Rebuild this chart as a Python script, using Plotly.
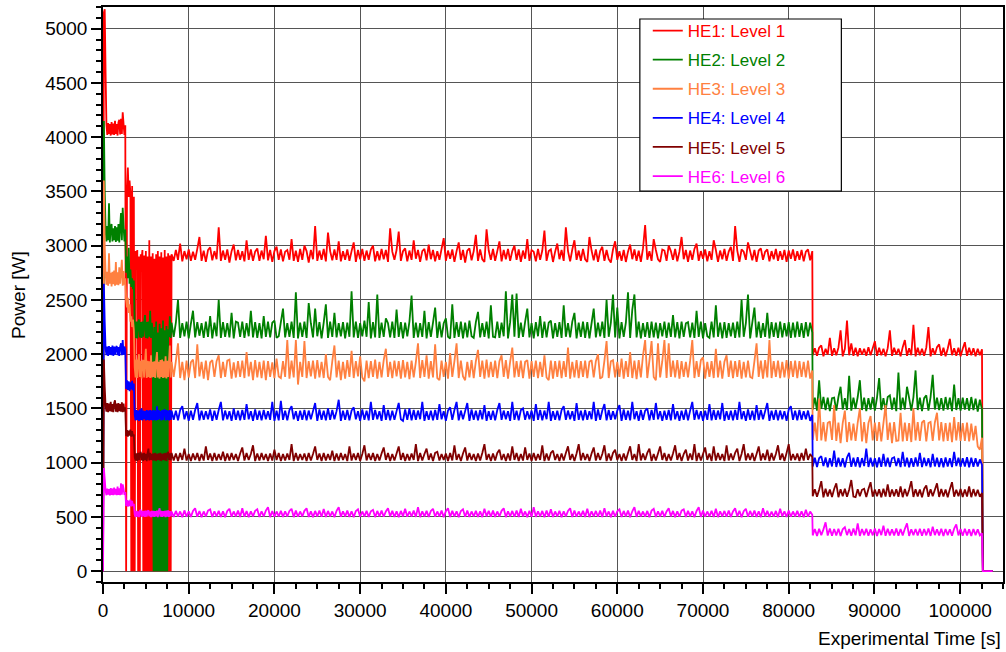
import plotly.graph_objects as go

# ---------------- time bases (s) ----------------
t_early = list(range(0, 8001, 100))                          # 81 samples
t_main = list(range(8250, 82751, 250))                       # 299 samples
t_post = list(range(82800, 102551, 250)) + [102650, 103800]  # 82 samples

series_names = ["HE1: Level 1", "HE2: Level 2", "HE3: Level 3",
                "HE4: Level 4", "HE5: Level 5", "HE6: Level 6"]
series_colors = ["#FF0000", "#008000", "#FF8040", "#0000FF", "#800000", "#FF00FF"]

# ---------------- HE1 ----------------
he1_early = [0, 5150, 5180, 4600, 4120,
             4020, 4130, 4030, 4120, 4015, 4140, 4025, 4125, 4020, 4150, 4030, 4120, 4015, 4135, 4160, 4025, 4170, 4030, 4230, 4120, 4020, 4110,
             0, 3500, 3720, 3450, 3600, 3480, 0, 3550, 0, 3450, 0,
             2950, 2870, 2960, 0, 2900, 0, 2920, 2870, 2960,
             0, 2910, 0, 2950, 0, 2900, 0, 3050, 0, 2900, 0, 2930, 0, 2880, 0, 2920, 0, 2950, 0, 2900,
             0, 2940, 0, 2890, 0, 2960, 0, 2900, 0, 2930, 0, 2910, 0, 2920]
he1_main = [2860, 2960, 2870, 3020, 2855, 2950, 2875, 2965, 2860, 2945,
            2870, 2970, 3080, 2860, 2955, 2850, 2960, 2985, 2865, 2950,
            2875, 3170, 2860, 2955, 2870, 2965, 2845, 2950, 3010, 2865,
            2960, 2870, 2950, 2855, 3050, 2870, 2965, 2860, 2945, 2975,
            2860, 2955, 2875, 3090, 2865, 2960, 2850, 2950, 2990, 2870,
            2965, 2855, 2945, 2960, 2870, 3060, 2860, 2955, 2850, 2970,
            2870, 3000, 2950, 2845, 2960, 2875, 3180, 2860, 2955, 2870,
            2970, 2855, 3120, 2950, 2865, 2965, 2870, 3040, 2855, 2950,
            2870, 2965, 2860, 2950, 3030, 2850, 2960, 2875, 2970, 2860,
            2955, 2870, 2965, 3000, 2855, 2950, 2865, 2970, 2875, 2960,
            2850, 3160, 2945, 2870, 2960, 3130, 2860, 2950, 2975, 2855,
            2955, 2870, 3050, 2880, 2960, 2850, 2950, 2970, 2865, 3010,
            2875, 2960, 2855, 2950, 2870, 2970, 3070, 2860, 2955, 2880,
            2965, 2850, 2950, 3030, 2870, 2960, 2845, 2955, 2975, 2865,
            2950, 3100, 2860, 2965, 2875, 2850, 3150, 2955, 2870, 2970,
            2860, 2950, 3040, 2855, 2960, 2875, 2970, 2860, 2950, 3000,
            2870, 2965, 2850, 2955, 2880, 3060, 2860, 2960, 2945, 2855,
            2970, 2870, 2955, 3140, 2860, 2950, 2965, 2850, 2945, 3020,
            2875, 2960, 2860, 3170, 2950, 2855, 2965, 3050, 2870, 2955,
            2860, 2970, 2875, 2850, 3080, 2955, 2865, 2965, 2850, 2950,
            2990, 2860, 2960, 2875, 2845, 2965, 3040, 2870, 2950, 2860,
            2960, 2850, 2945, 3010, 2875, 2965, 2860, 2955, 2850, 2975,
            3190, 2870, 2950, 2860, 3060, 2960, 2875, 2850, 2965, 2955,
            2860, 3000, 2950, 2870, 2970, 2855, 2945, 3080, 2875, 2960,
            2850, 2955, 2870, 2970, 3020, 2860, 2950, 2880, 2965, 2855,
            2950, 2870, 3050, 2960, 2850, 2955, 2875, 2970, 2860, 2945,
            2990, 2860, 3180, 2955, 2850, 2965, 2945, 2870, 3030, 2950,
            2865, 2960, 2850, 2955, 2975, 2870, 2945, 2965, 2855, 2950,
            2875, 2970, 2860, 2950, 2870, 2960, 2850, 2955, 2880, 2965,
            2860, 2950, 2870, 2960, 2855, 2945, 2965, 2865, 2950]
he1_post = [1990, 2055, 1985, 2060, 2080, 1980, 2050, 1995, 2150, 1985,
            2055, 1990, 2060, 2220, 1980, 2050, 2310, 1990, 2100, 1985,
            2060, 1980, 2055, 1995, 2050, 1985, 2065, 1990, 2055, 2120,
            1985, 2060, 1990, 2050, 1980, 2055, 2220, 1985, 2060, 1995,
            2050, 1980, 2065, 2130, 1985, 2055, 1990, 2270, 1980, 2060,
            1990, 2050, 1985, 2060, 2250, 1980, 2055, 1995, 2065, 2090,
            1985, 2060, 1980, 2050, 2140, 1990, 2055, 1985, 2060, 1980,
            2050, 2110, 1985, 2060, 1990, 2055, 1980, 2050, 1990, 2045,
            0, 0]

# ---------------- HE2 ----------------
he2_early = [0, 4150, 3500, 3150,
             3040, 3180, 3050, 3390, 3030, 3170, 3200, 3040, 3160, 3050, 3180, 3035, 3170, 3045, 3200, 3030, 3175, 3300, 3050, 3350, 3180, 3040, 3150,
             2750, 2900, 2700, 2980, 2650, 2780, 2620, 2700, 2600, 2680,
             2250, 2150, 2300, 2145, 2290, 2320, 2155, 2295, 2150, 2300, 2160, 2290, 2360, 2150, 2295, 2145, 2300, 2160, 2400, 2150, 2290, 2190,
             0, 2250, 0, 2300, 0, 2200, 0, 2280, 0, 2240, 0, 2310, 0, 2220, 0, 2260, 0, 2230,
             2160, 2350, 2150, 2290]
he2_main = [2160, 2290, 2500, 2150, 2285, 2165, 2300, 2145, 2280, 2400,
            2155, 2295, 2170, 2285, 2150, 2300, 2160, 2350, 2145, 2290,
            2165, 2500, 2150, 2295, 2160, 2285, 2155, 2380, 2145, 2300,
            2290, 2160, 2300, 2150, 2285, 2165, 2400, 2155, 2295, 2150,
            2285, 2145, 2350, 2160, 2300, 2155, 2290, 2310, 2150, 2165,
            2295, 2420, 2155, 2285, 2160, 2300, 2150, 2570, 2145, 2290,
            2160, 2300, 2150, 2470, 2285, 2155, 2420, 2165, 2295, 2145,
            2290, 2460, 2150, 2300, 2160, 2380, 2155, 2285, 2165, 2295,
            2145, 2290, 2160, 2580, 2155, 2300, 2150, 2285, 2165, 2310,
            2160, 2480, 2145, 2295, 2155, 2550, 2150, 2290, 2160, 2330,
            2285, 2155, 2300, 2150, 2410, 2160, 2295, 2145, 2290, 2165,
            2300, 2540, 2150, 2290, 2155, 2285, 2160, 2400, 2145, 2295,
            2160, 2290, 2430, 2150, 2300, 2155, 2285, 2330, 2160, 2145,
            2460, 2150, 2295, 2160, 2300, 2145, 2290, 2155, 2310, 2165,
            2150, 2295, 2390, 2155, 2285, 2160, 2300, 2145, 2450, 2160,
            2155, 2300, 2150, 2290, 2165, 2580, 2145, 2295, 2550, 2160,
            2560, 2150, 2290, 2160, 2300, 2420, 2155, 2285, 2145, 2295,
            2165, 2350, 2150, 2300, 2155, 2290, 2310, 2145, 2285, 2160,
            2295, 2150, 2450, 2160, 2285, 2155, 2300, 2380, 2145, 2290,
            2160, 2300, 2150, 2295, 2145, 2285, 2420, 2155, 2290, 2165,
            2300, 2150, 2500, 2160, 2290, 2550, 2155, 2430, 2145, 2295,
            2160, 2290, 2570, 2150, 2410, 2550, 2155, 2300, 2145, 2285,
            2160, 2295, 2150, 2300, 2155, 2290, 2145, 2285, 2165, 2300,
            2150, 2290, 2160, 2360, 2155, 2295, 2145, 2300, 2160, 2285,
            2295, 2155, 2290, 2150, 2400, 2160, 2300, 2145, 2285, 2165,
            2150, 2300, 2155, 2450, 2160, 2290, 2145, 2295, 2150, 2285,
            2165, 2290, 2150, 2300, 2155, 2500, 2160, 2285, 2550, 2145,
            2290, 2430, 2155, 2300, 2150, 2285, 2160, 2380, 2145, 2295,
            2160, 2290, 2150, 2300, 2155, 2285, 2165, 2295, 2150, 2290,
            2155, 2300, 2160, 2285, 2150, 2295, 2165, 2290, 2200]
he2_post = [1490, 1600, 1480, 1760, 1495, 1605, 1485, 1600, 1475, 1595,
            1600, 1480, 1605, 1700, 1490, 1595, 1485, 1800, 1480, 1600,
            1495, 1605, 1760, 1485, 1600, 1475, 1595, 1490, 1605, 1480,
            1600, 1780, 1485, 1595, 1480, 1605, 1620, 1490, 1600, 1475,
            1830, 1485, 1600, 1490, 1700, 1595, 1480, 1605, 1850, 1485,
            1600, 1475, 1595, 1620, 1480, 1605, 1810, 1490, 1600, 1485,
            1595, 1480, 1605, 1490, 1600, 1475, 1720, 1485, 1595, 1480,
            1600, 1490, 1595, 1480, 1605, 1485, 1590, 1470, 1580, 1490,
            0, 0]

# ---------------- HE3 ----------------
he3_early = [0, 3600, 3000, 2750,
             2640, 2760, 2630, 2930, 2650, 2750, 2625, 2760, 2645, 2770, 2630, 2850, 2640, 2755, 2635, 2800, 2650, 2760, 2870, 2630, 2765, 2640, 2700,
             2500, 2430, 2520, 2380, 2460, 2300, 2350, 2250, 2320, 2220,
             1880, 1785, 1950, 1780, 1935, 2000, 1790, 1940, 1775, 1935, 1945, 1785, 1930, 2050, 1780, 1940, 1790, 1935, 1780, 1990, 1785, 1930,
             1790, 1935, 1780, 1940, 2020, 1785, 1930, 1775, 1945, 1790, 1950, 1780, 1935, 1785, 1980, 1775, 1940, 1790, 1935, 2080, 1785, 1930]
he3_main = [1790, 1935, 2100, 1780, 1930, 1760, 1940, 1785, 1925, 1950,
            1780, 2090, 1795, 1930, 1775, 1940, 1760, 1925, 1945, 1790,
            1935, 1990, 1780, 1930, 1790, 1940, 1950, 1775, 1925, 1785,
            1935, 1790, 1940, 1780, 2020, 1795, 1930, 1760, 1945, 1785,
            1930, 1780, 1940, 1760, 1935, 1790, 1925, 1780, 1960, 1795,
            1780, 1935, 1790, 2130, 1775, 1940, 1785, 2130, 1720, 1930,
            1790, 2120, 1780, 1935, 1795, 1940, 1775, 1945, 1785, 1930,
            1780, 2000, 1790, 1760, 1935, 2080, 1785, 1940, 1760, 1930,
            1775, 1945, 1790, 2030, 1780, 1935, 1795, 1980, 1785, 1750,
            1940, 1780, 1935, 1790, 1950, 1775, 1930, 1785, 1945, 2050,
            1790, 1930, 1780, 1940, 1795, 1935, 1775, 1945, 1785, 1930,
            1770, 1940, 1785, 1930, 2100, 1780, 1945, 1790, 1990, 1775,
            1935, 1785, 2090, 1780, 1760, 1940, 1790, 1930, 1775, 2010,
            1790, 1935, 2100, 1780, 1940, 1795, 1760, 1930, 1785, 1945,
            1780, 1935, 2040, 1790, 1940, 1775, 1950, 1785, 1930, 1790,
            1940, 1780, 1935, 1990, 1790, 1945, 1775, 1930, 2060, 1785,
            1935, 1790, 1940, 1780, 1930, 1945, 1775, 1935, 1790, 1940,
            1780, 1930, 1790, 1990, 1785, 1760, 1940, 1775, 1935, 1790,
            1940, 1780, 1935, 1790, 2060, 1775, 1930, 1785, 1945, 1780,
            1935, 1790, 1940, 1780, 1930, 1945, 1785, 1935, 2000, 1775,
            1790, 1940, 2120, 1780, 1935, 1945, 1785, 1930, 1790, 1960,
            1775, 1935, 1790, 2020, 1780, 1940, 1770, 1945, 1785, 1990,
            2130, 1780, 1940, 2120, 1790, 1760, 2100, 1785, 1935, 2130,
            1780, 2100, 1790, 1940, 1785, 1945, 1775, 1935, 1790, 1930,
            1785, 1940, 2130, 1780, 1935, 1790, 1945, 1970, 1775, 1930,
            1790, 1935, 1780, 2050, 1785, 1940, 1775, 1930, 1990, 1790,
            1940, 1780, 1935, 1790, 1945, 1775, 1930, 1785, 1940, 1790,
            1780, 1935, 2100, 1790, 1940, 1775, 1945, 1785, 2130, 1780,
            1935, 1790, 1940, 1780, 1930, 1785, 1945, 1775, 1935, 1790,
            1940, 1780, 1935, 1790, 1930, 1785, 1940, 1775, 1850]
he3_post = [1210, 1370, 1200, 1590, 1205, 1375, 1195, 1365, 1380, 1210,
            1530, 1200, 1370, 1180, 1365, 1480, 1190, 1375, 1205, 1360,
            1200, 1370, 1500, 1195, 1375, 1180, 1365, 1430, 1205, 1370,
            1200, 1375, 1195, 1365, 1530, 1210, 1370, 1180, 1375, 1200,
            1205, 1460, 1195, 1370, 1200, 1365, 1190, 1500, 1205, 1375,
            1200, 1370, 1390, 1195, 1365, 1375, 1200, 1370, 1460, 1205,
            1375, 1195, 1365, 1200, 1370, 1190, 1420, 1205, 1375, 1200,
            1365, 1200, 1370, 1195, 1360, 1205, 1340, 1150, 1120, 1230,
            0, 0]

# ---------------- HE4 ----------------
he4_early = [0, 2650, 2300, 2050,
             1990, 2070, 1985, 2075, 1995, 2065, 1990, 2080, 1985, 2070, 1995, 2060, 2075, 1990, 2065, 1985, 2070, 2100, 1990, 2130, 1995, 2070, 2040,
             1680, 1760, 1670, 1750, 1660, 1740, 1675, 1755, 1665, 1730,
             1440, 1390, 1485, 1395, 1480, 1385, 1490, 1395, 1500, 1390, 1480, 1400, 1475, 1390, 1485, 1395, 1480, 1390, 1485, 1395, 1480, 1390,
             1485, 1395, 1480, 1390, 1520, 1395, 1485, 1400, 1475, 1390, 1485, 1395, 1480, 1490, 1390, 1485, 1395, 1480, 1390, 1485, 1395, 1480]
he4_main = [1395, 1480, 1390, 1485, 1520, 1400, 1475, 1385, 1480, 1395,
            1485, 1550, 1390, 1480, 1395, 1475, 1400, 1490, 1385, 1480,
            1395, 1485, 1560, 1390, 1480, 1400, 1475, 1385, 1500, 1395,
            1480, 1390, 1485, 1395, 1540, 1400, 1475, 1385, 1490, 1395,
            1480, 1390, 1485, 1400, 1475, 1395, 1560, 1385, 1480, 1390,
            1570, 1395, 1480, 1390, 1485, 1520, 1400, 1475, 1385, 1480,
            1395, 1485, 1390, 1480, 1400, 1475, 1550, 1385, 1490, 1395,
            1480, 1390, 1500, 1395, 1485, 1400, 1475, 1580, 1385, 1480,
            1395, 1485, 1390, 1480, 1510, 1400, 1475, 1385, 1490, 1395,
            1480, 1390, 1560, 1395, 1485, 1400, 1475, 1385, 1530, 1395,
            1485, 1390, 1480, 1395, 1475, 1550, 1400, 1385, 1490, 1395,
            1500, 1390, 1485, 1395, 1480, 1400, 1560, 1385, 1475, 1395,
            1480, 1390, 1485, 1395, 1540, 1400, 1475, 1385, 1480, 1510,
            1395, 1485, 1560, 1390, 1480, 1400, 1475, 1550, 1385, 1490,
            1395, 1480, 1390, 1485, 1400, 1530, 1385, 1475, 1395, 1480,
            1390, 1485, 1550, 1395, 1480, 1400, 1475, 1385, 1560, 1395,
            1480, 1390, 1485, 1500, 1395, 1475, 1400, 1480, 1385, 1540,
            1395, 1485, 1390, 1480, 1400, 1560, 1385, 1475, 1395, 1480,
            1390, 1485, 1520, 1395, 1480, 1400, 1475, 1385, 1550, 1395,
            1480, 1390, 1485, 1395, 1475, 1400, 1560, 1385, 1490, 1395,
            1480, 1540, 1390, 1485, 1395, 1475, 1400, 1480, 1530, 1385,
            1490, 1395, 1480, 1390, 1560, 1400, 1475, 1385, 1485, 1395,
            1480, 1500, 1390, 1485, 1395, 1550, 1400, 1475, 1385, 1480,
            1395, 1485, 1390, 1540, 1400, 1475, 1385, 1480, 1395, 1490,
            1390, 1480, 1560, 1395, 1485, 1400, 1475, 1385, 1480, 1395,
            1540, 1390, 1485, 1395, 1480, 1400, 1550, 1385, 1475, 1395,
            1480, 1390, 1485, 1395, 1560, 1400, 1475, 1385, 1490, 1395,
            1480, 1390, 1530, 1395, 1485, 1400, 1475, 1550, 1385, 1480,
            1395, 1485, 1390, 1480, 1400, 1475, 1385, 1490, 1520, 1395,
            1480, 1390, 1485, 1395, 1475, 1400, 1480, 1385, 1440]
he4_post = [965, 1045, 960, 1040, 1060, 968, 1048, 958, 1042, 965,
            1110, 960, 1045, 965, 1040, 958, 1048, 1090, 962, 1045,
            965, 1050, 958, 1042, 968, 1130, 960, 1045, 965, 1040,
            958, 1048, 962, 1080, 965, 1045, 960, 1040, 1050, 968,
            1042, 960, 1100, 965, 1045, 958, 1040, 962, 1048, 965,
            1090, 960, 1045, 968, 1040, 958, 1080, 965, 1045, 960,
            1042, 958, 1048, 965, 1040, 960, 1100, 968, 1045, 962,
            1040, 965, 1050, 958, 1045, 962, 1040, 965, 1030, 980,
            0, 0]

# ---------------- HE5 ----------------
he5_early = [0, 1950, 1700, 1520,
             1470, 1550, 1465, 1545, 1475, 1560, 1470, 1540, 1465, 1550, 1575, 1470, 1545, 1465, 1550, 1475, 1540, 1470, 1555, 1465, 1545, 1470, 1510,
             1245, 1300, 1240, 1295, 1250, 1305, 1240, 1290, 1245, 1260,
             1050, 1020, 1085, 1015, 1090, 1025, 1080, 1100, 1020, 1085, 1015, 1090, 1025, 1080, 1015, 1085, 1130, 1020, 1090, 1025, 1080, 1020,
             1085, 1020, 1090, 1015, 1080, 1025, 1085, 1020, 1090, 1015, 1080, 1025, 1085, 1020, 1090, 1015, 1080, 1100, 1025, 1085, 1020, 1090]
he5_main = [1020, 1085, 1015, 1090, 1025, 1130, 1020, 1080, 1015, 1085,
            1025, 1090, 1015, 1080, 1020, 1150, 1025, 1085, 1015, 1090,
            1020, 1080, 1025, 1100, 1015, 1085, 1020, 1090, 1025, 1080,
            1015, 1085, 1140, 1020, 1090, 1025, 1080, 1160, 1015, 1085,
            1020, 1090, 1025, 1080, 1015, 1085, 1020, 1120, 1025, 1090,
            1015, 1080, 1020, 1085, 1025, 1170, 1015, 1090, 1020, 1080,
            1025, 1085, 1015, 1090, 1020, 1080, 1150, 1025, 1085, 1015,
            1090, 1020, 1080, 1025, 1110, 1015, 1085, 1020, 1090, 1025,
            1080, 1015, 1150, 1020, 1085, 1025, 1090, 1015, 1080, 1160,
            1020, 1085, 1025, 1090, 1015, 1080, 1020, 1085, 1140, 1025,
            1090, 1015, 1080, 1020, 1085, 1150, 1025, 1090, 1015, 1080,
            1020, 1085, 1025, 1170, 1015, 1090, 1020, 1080, 1130, 1025,
            1085, 1015, 1090, 1100, 1020, 1080, 1025, 1085, 1015, 1090,
            1020, 1160, 1025, 1080, 1015, 1085, 1140, 1020, 1090, 1025,
            1080, 1015, 1085, 1020, 1090, 1170, 1025, 1080, 1015, 1085,
            1020, 1090, 1120, 1025, 1080, 1015, 1085, 1020, 1150, 1025,
            1090, 1015, 1080, 1020, 1140, 1025, 1085, 1015, 1090, 1020,
            1080, 1025, 1160, 1015, 1085, 1020, 1090, 1110, 1025, 1080,
            1015, 1085, 1020, 1090, 1150, 1025, 1080, 1015, 1085, 1170,
            1020, 1090, 1025, 1080, 1015, 1085, 1140, 1020, 1090, 1025,
            1080, 1160, 1015, 1085, 1020, 1090, 1120, 1025, 1080, 1015,
            1085, 1020, 1090, 1150, 1025, 1080, 1015, 1170, 1020, 1085,
            1025, 1090, 1130, 1015, 1080, 1020, 1085, 1150, 1025, 1090,
            1015, 1080, 1020, 1085, 1160, 1025, 1090, 1015, 1080, 1120,
            1020, 1085, 1025, 1170, 1015, 1090, 1020, 1080, 1140, 1025,
            1085, 1015, 1150, 1020, 1090, 1025, 1080, 1015, 1160, 1020,
            1085, 1025, 1090, 1130, 1015, 1080, 1170, 1020, 1085, 1025,
            1090, 1015, 1080, 1150, 1020, 1085, 1025, 1120, 1015, 1090,
            1020, 1080, 1160, 1025, 1085, 1015, 1090, 1170, 1020, 1080,
            1025, 1085, 1015, 1090, 1020, 1130, 1025, 1080, 1050]
he5_post = [690, 755, 685, 750, 830, 680, 760, 688, 752, 684,
            758, 810, 682, 755, 690, 760, 685, 750, 840, 688,
            682, 755, 690, 750, 760, 684, 758, 820, 686, 752,
            690, 755, 682, 760, 688, 800, 684, 752, 690, 755,
            686, 780, 682, 758, 690, 750, 830, 684, 756, 688,
            752, 682, 758, 790, 686, 755, 690, 750, 810, 684,
            758, 688, 752, 682, 756, 820, 686, 750, 690, 758,
            684, 752, 688, 780, 682, 756, 690, 750, 686, 720,
            0, 0]

# ---------------- HE6 ----------------
he6_early = [0, 950, 850, 740,
             700, 760, 705, 755, 698, 765, 702, 760, 700, 770, 705, 758, 700, 780, 704, 762, 700, 810, 705, 800, 760, 702, 730,
             600, 655, 595, 650, 600, 660, 598, 648, 602, 620,
             520, 500, 555, 502, 550, 498, 556, 565, 500, 552, 505, 555, 500, 558, 502, 550, 560, 505, 552, 498, 556, 502,
             555, 500, 552, 505, 558, 498, 550, 580, 502, 556, 500, 552, 505, 555, 498, 558, 502, 560, 500, 552, 505, 550]
he6_main = [500, 555, 505, 550, 498, 560, 502, 552, 500, 556,
            580, 502, 555, 498, 550, 505, 558, 570, 500, 552,
            505, 556, 500, 552, 498, 555, 575, 502, 550, 505,
            558, 500, 580, 502, 555, 498, 552, 505, 556, 570,
            500, 552, 505, 558, 590, 498, 555, 502, 550, 505,
            556, 500, 552, 505, 555, 575, 498, 558, 502, 550,
            505, 556, 580, 500, 552, 498, 555, 505, 558, 502,
            572, 500, 555, 505, 550, 498, 556, 590, 502, 552,
            505, 558, 500, 552, 498, 555, 570, 502, 550, 505,
            556, 500, 552, 565, 498, 555, 505, 558, 502, 550,
            580, 505, 556, 500, 552, 498, 555, 505, 575, 502,
            550, 505, 558, 500, 590, 498, 552, 505, 556, 500,
            555, 575, 502, 550, 505, 558, 498, 552, 580, 500,
            556, 505, 552, 498, 555, 570, 502, 558, 500, 550,
            505, 556, 500, 552, 498, 575, 505, 555, 502, 558,
            500, 550, 505, 556, 580, 498, 552, 505, 555, 502,
            558, 500, 575, 505, 550, 498, 556, 502, 590, 500,
            552, 505, 555, 498, 558, 502, 570, 500, 550, 505,
            556, 498, 552, 505, 555, 580, 500, 558, 502, 550,
            505, 556, 500, 575, 498, 552, 505, 555, 502, 558,
            500, 580, 505, 550, 498, 556, 502, 552, 570, 500,
            555, 505, 558, 498, 552, 590, 500, 556, 505, 550,
            502, 555, 498, 558, 575, 500, 552, 505, 556, 500,
            550, 580, 505, 555, 498, 552, 502, 558, 570, 500,
            556, 505, 552, 498, 555, 590, 500, 558, 502, 550,
            505, 556, 500, 575, 498, 552, 505, 555, 502, 558,
            500, 550, 580, 505, 556, 498, 552, 575, 502, 555,
            505, 558, 500, 552, 498, 580, 505, 556, 500, 550,
            502, 555, 498, 575, 505, 552, 500, 558, 502, 550,
            505, 556, 500, 552, 498, 565, 502, 550, 520]
he6_post = [330, 388, 325, 390, 332, 385, 450, 328, 392, 326,
            388, 330, 390, 325, 386, 405, 332, 388, 326, 392,
            330, 440, 325, 388, 332, 390, 326, 386, 330, 392,
            325, 388, 332, 420, 326, 390, 330, 385, 328, 392,
            326, 388, 330, 390, 440, 325, 386, 332, 388, 328,
            390, 326, 388, 330, 392, 325, 410, 332, 386, 328,
            390, 325, 388, 332, 386, 326, 392, 430, 330, 388,
            326, 390, 330, 386, 325, 388, 332, 385, 330, 350,
            0, 0]

series_values = [
    he1_early + he1_main + he1_post,
    he2_early + he2_main + he2_post,
    he3_early + he3_main + he3_post,
    he4_early + he4_main + he4_post,
    he5_early + he5_main + he5_post,
    he6_early + he6_main + he6_post,
]
time_s = t_early + t_main + t_post
for v in series_values:
    assert len(v) == len(time_s), (len(v), len(time_s))

FONT = "Liberation Sans, Arial, sans-serif"
PAD = "\u00a0" * 12

fig = go.Figure()
for name, color, vals in zip(series_names, series_colors, series_values):
    fig.add_trace(go.Scatter(
        x=time_s, y=vals, mode="lines",
        line=dict(color=color, width=1.8, simplify=False),
        name=f'<span style="color:{color}">{name}</span>{PAD}',
        legendgroup=name,
    ))

axis_common = dict(
    showline=True, linecolor="black", linewidth=1.5, mirror=True,
    showgrid=True, gridcolor="rgb(85,85,85)", gridwidth=1,
    zeroline=False,
    ticks="outside", ticklen=10, tickwidth=1.5, tickcolor="black",
    tickfont=dict(family=FONT, size=19, color="black"),
)

fig.update_layout(
    width=1006, height=652,
    margin=dict(l=103, r=1, t=7, b=70),
    paper_bgcolor="white", plot_bgcolor="white",
    font=dict(family=FONT, color="black"),
    showlegend=True,
    legend=dict(
        x=0.6053, y=0.9896, xanchor="left", yanchor="top",
        bgcolor="rgba(0,0,0,0)", borderwidth=0,
        font=dict(family=FONT, size=17),
        traceorder="grouped", tracegroupgap=4,
    ),
    shapes=[
        dict(type="rect", xref="paper", yref="paper",
             x0=0.5965, x1=0.8204, y0=0.6797, y1=0.9791,
             fillcolor="white", line=dict(color="black", width=1.2), layer="above"),
    ],
    xaxis=dict(
        range=[0, 105000], tick0=0, dtick=10000, tickformat="d",
        minor=dict(dtick=2500, ticks="outside", ticklen=5, tickwidth=1.5, tickcolor="black", showgrid=False),
        **axis_common,
    ),
    yaxis=dict(
        range=[-100, 5200], tick0=0, dtick=500, tickformat="d",
        minor=dict(dtick=100, ticks="outside", ticklen=5, tickwidth=1.5, tickcolor="black", showgrid=False),
        **axis_common,
    ),
    annotations=[
        dict(text="Experimental Time [s]", x=1, xref="paper", xanchor="right",
             y=0, yref="paper", yanchor="top", yshift=-44, showarrow=False,
             font=dict(family=FONT, size=19, color="black")),
        dict(text="Power [W]", x=-0.094, xref="paper", xanchor="center",
             y=0.5, yref="paper", yanchor="middle", textangle=-90, showarrow=False,
             font=dict(family=FONT, size=19, color="black")),
    ],
)

fig.write_html("out.html")
